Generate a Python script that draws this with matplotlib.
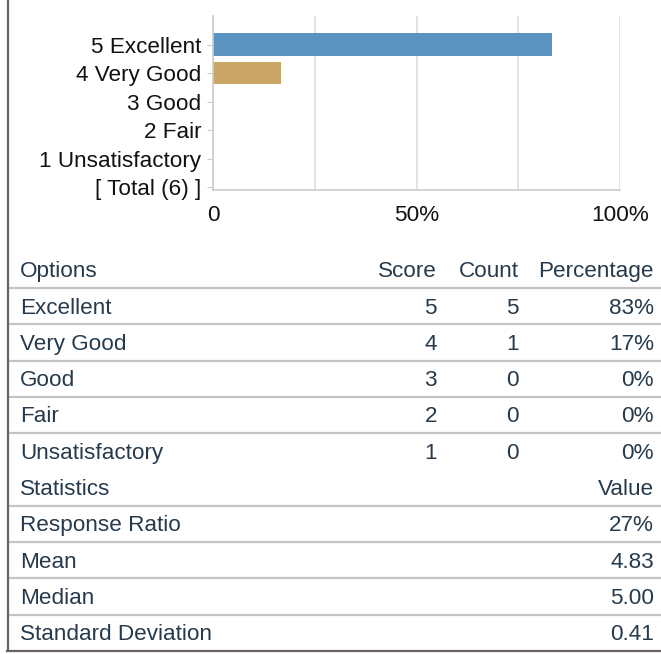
import matplotlib
matplotlib.use("Agg")
import matplotlib.pyplot as plt
from matplotlib.lines import Line2D

plt.rcParams['font.family'] = ['Liberation Sans', 'DejaVu Sans']

# ---- data ----
chart_labels = ["5 Excellent", "4 Very Good", "3 Good", "2 Fair", "1 Unsatisfactory", "[ Total (6) ]"]
bar_values = [83.33, 16.67, 0, 0, 0]
bar_colors = ["#5a93c0", "#c9a566", "#5a93c0", "#5a93c0", "#5a93c0"]
x_ticks = [0, 50, 100]
x_ticklabels = ["0", "50%", "100%"]
grid_x = [0, 25, 50, 75, 100]

options = ["Excellent", "Very Good", "Good", "Fair", "Unsatisfactory"]
scores = [5, 4, 3, 2, 1]
counts = [5, 1, 0, 0, 0]
percentages = ["83%", "17%", "0%", "0%", "0%"]

stat_names = ["Response Ratio", "Mean", "Median", "Standard Deviation"]
stat_values = ["27%", "4.83", "5.00", "0.41"]

W, H = 661, 654
fig = plt.figure(figsize=(W / 100, H / 100), dpi=100)
fig.patch.set_facecolor("white")

FS = 16.2
TXT = "#263a4b"
GRID = "#e0e0e0"

# ---- bar chart ----
ax = fig.add_axes([213 / W, 1 - 190 / H, (620 - 213) / W, (190 - 16) / H])
ax.set_xlim(0, 100)
ax.set_ylim(5.1, -1)
for x in grid_x:
    ax.axvline(x, color=GRID, lw=1.3, zorder=0)
ax.barh(range(len(bar_values)), bar_values, height=0.8, color=bar_colors, zorder=2)
ax.set_yticks(range(len(chart_labels)))
ax.set_yticklabels(chart_labels, fontsize=FS, color="#111111")
ax.tick_params(axis="y", length=4, color="#cccccc", pad=4.5)
ax.set_xticks(x_ticks)
ax.set_xticklabels(x_ticklabels, fontsize=FS, color="#111111")
ax.tick_params(axis="x", length=0, pad=11)
for s in ["top", "right"]:
    ax.spines[s].set_visible(False)
for s in ["left", "bottom"]:
    ax.spines[s].set_color("#cccccc")
    ax.spines[s].set_linewidth(1.2)
ax.set_facecolor("none")

# ---- table ----
tax = fig.add_axes([0, 1 - 651 / H, 1, (651 - 251.85) / H])
tax.set_xlim(0, W)
tax.set_ylim(10.5, -0.5)
tax.axis("off")

X_OPT, X_SCORE, X_COUNT, X_PCT = 20, 437, 519, 654
LINE_C = "#c4c4c4"
DY = 0.05

def row_text(r, items):
    for x, s, ha in items:
        tax.text(x, r + DY, s, ha=ha, va="center", fontsize=FS, color=TXT)

row_text(0, [(X_OPT, "Options", "left"), (X_SCORE, "Score", "right"),
             (X_COUNT, "Count", "right"), (X_PCT, "Percentage", "right")])
for i, (o, sc, c, p) in enumerate(zip(options, scores, counts, percentages)):
    row_text(i + 1, [(X_OPT, o, "left"), (X_SCORE, str(sc), "right"),
                     (X_COUNT, str(c), "right"), (X_PCT, p, "right")])
row_text(6, [(X_OPT, "Statistics", "left"), (X_PCT, "Value", "right")])
for j, (n, v) in enumerate(zip(stat_names, stat_values)):
    row_text(7 + j, [(X_OPT, n, "left"), (X_PCT, v, "right")])

for r in [0, 1, 2, 3, 4, 6, 7, 8, 9]:
    tax.plot([9, W], [r + 0.5, r + 0.5], color=LINE_C, lw=1.6, solid_capstyle="butt")

# ---- outer border (left & bottom) ----
BORDER = "#6b6161"
fig.add_artist(Line2D([7.5 / W, 7.5 / W], [1 - 651 / H, 1], transform=fig.transFigure,
                      color=BORDER, lw=1.6))
fig.add_artist(Line2D([7 / W, 1], [1 - 650.5 / H, 1 - 650.5 / H], transform=fig.transFigure,
                      color=BORDER, lw=1.6))

fig.savefig("out.png", dpi=100)
